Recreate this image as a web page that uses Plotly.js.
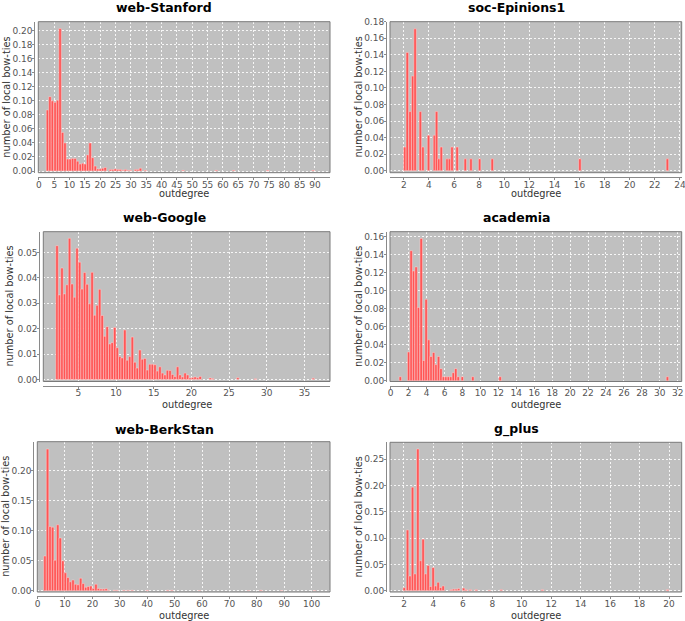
<!DOCTYPE html>
<html>
<head>
<meta charset="utf-8">
<script src="https://cdn.plot.ly/plotly-3.0.1.min.js"></script>
<style>html,body{margin:0;padding:0;background:#fff;}#chart{width:685px;height:621px;}</style>
</head>
<body>
<div id="chart"></div>
<script>
// ---------- data ----------
const panelTitles = ["web-Stanford", "soc-Epinions1", "web-Google", "academia", "web-BerkStan", "g_plus"];
const xLabel = "outdegree";
const yLabel = "number of local bow-ties";

const stanfordDeg = [2.8, 3.6, 4.4, 5.3, 6.1, 6.9, 7.7, 8.5, 9.4, 10.2, 11.0, 11.8, 12.6, 13.5, 14.3, 15.1, 15.9, 16.7, 17.5, 18.4, 19.2, 20.0, 20.8, 21.6, 23.3, 24.1, 24.9, 25.7, 26.5, 27.4, 28.2, 29.0, 29.8, 31.5, 32.3, 33.1, 34.7, 47.0, 57.8, 63.5, 74.6, 89.4];
const stanfordBowties = [0.087, 0.106, 0.100, 0.098, 0.101, 0.203, 0.055, 0.040, 0.017, 0.017, 0.018, 0.018, 0.014, 0.010, 0.011, 0.010, 0.023, 0.040, 0.019, 0.007, 0.003, 0.003, 0.004, 0.005, 0.002, 0.002, 0.003, 0.002, 0.002, 0.001, 0.002, 0.001, 0.001, 0.002, 0.002, 0.004, 0.001, 0.001, 0.001, 0.001, 0.001, 0.001];

const epinionsDeg = [2.08, 2.28, 2.5, 2.71, 2.9, 3.32, 3.52, 3.97, 4.44, 4.61, 4.79, 4.99, 5.45, 5.64, 5.84, 6.25, 6.9, 7.35, 8.04, 9.05, 16.03, 23.0];
const epinionsBowties = [0.0286, 0.1429, 0.0714, 0.1143, 0.1714, 0.0714, 0.0286, 0.0429, 0.0429, 0.0714, 0.0143, 0.0286, 0.0143, 0.0143, 0.0286, 0.0286, 0.0143, 0.0143, 0.0143, 0.0143, 0.0143, 0.0143];

const googleDeg = [2.17, 2.5, 2.83, 3.17, 3.5, 3.83, 4.17, 4.5, 4.83, 5.17, 5.5, 5.83, 6.17, 6.5, 6.83, 7.17, 7.5, 7.83, 8.17, 8.5, 8.83, 9.17, 9.5, 9.83, 10.17, 10.5, 10.83, 11.17, 11.5, 11.83, 12.17, 12.5, 12.83, 13.17, 13.5, 13.83, 14.17, 14.5, 14.83, 15.17, 15.5, 15.83, 16.17, 16.5, 16.83, 17.17, 17.5, 17.83, 18.17, 18.5, 18.83, 19.17, 19.5, 19.83, 20.17, 20.5, 20.83, 21.17, 22.5, 22.83, 26.17, 28.5, 36.17];
const googleBowties = [0.0527, 0.0333, 0.0439, 0.0337, 0.0373, 0.0556, 0.0376, 0.0324, 0.0517, 0.0462, 0.0356, 0.0421, 0.0375, 0.0298, 0.0422, 0.0253, 0.0292, 0.0355, 0.0252, 0.0170, 0.0208, 0.0140, 0.0145, 0.0205, 0.0125, 0.0090, 0.0085, 0.0195, 0.0076, 0.0090, 0.0167, 0.0068, 0.0045, 0.0116, 0.0080, 0.0083, 0.0037, 0.0060, 0.0060, 0.0058, 0.0033, 0.0050, 0.0025, 0.0018, 0.0036, 0.0035, 0.0020, 0.0012, 0.0050, 0.0018, 0.0010, 0.0025, 0.0018, 0.0006, 0.0008, 0.0010, 0.0007, 0.0012, 0.0006, 0.0004, 0.0007, 0.0003, 0.0005];

const academiaDeg = [1.07, 2.0, 2.28, 2.55, 2.83, 3.1, 3.4, 3.68, 3.95, 4.23, 4.5, 4.78, 5.05, 5.33, 5.6, 5.88, 6.15, 6.43, 6.7, 6.98, 7.25, 7.53, 7.98, 9.15, 12.2, 30.85];
const academiaBowties = [0.0045, 0.032, 0.1445, 0.122, 0.1265, 0.0815, 0.158, 0.0225, 0.0905, 0.0455, 0.027, 0.0315, 0.018, 0.027, 0.0135, 0.0045, 0.0045, 0.0045, 0.0045, 0.009, 0.0135, 0.0045, 0.0045, 0.0045, 0.0045, 0.0045];

const berkstanDeg = [2.7, 3.63, 4.56, 5.49, 6.42, 7.35, 8.28, 9.21, 10.14, 11.07, 12.0, 12.93, 13.86, 14.79, 15.72, 16.65, 17.58, 18.51, 19.44, 20.37, 21.3, 22.23, 23.16, 24.09, 25.02, 25.95, 28.0, 29.0, 31.5, 33.0, 34.5, 40.0, 47.5, 49.0, 59.0, 77.0, 81.5, 89.0, 101.0];
const berkstanBowties = [0.058, 0.236, 0.107, 0.106, 0.051, 0.110, 0.088, 0.050, 0.030, 0.022, 0.015, 0.018, 0.011, 0.010, 0.021, 0.012, 0.006, 0.007, 0.008, 0.004, 0.011, 0.004, 0.003, 0.003, 0.0035, 0.001, 0.001, 0.001, 0.001, 0.001, 0.001, 0.0008, 0.001, 0.001, 0.0005, 0.0005, 0.001, 0.0005, 0.0005];

const gplusDeg = [2.02, 2.24, 2.41, 2.58, 2.75, 2.94, 3.13, 3.3, 3.47, 3.64, 3.81, 3.98, 4.15, 4.32, 4.49, 4.66, 5.2, 5.37, 5.54, 5.71, 6.05, 6.22, 6.5, 6.9, 7.8, 8.6, 11.4, 19.9];
const gplusBowties = [0.0057, 0.1155, 0.028, 0.197, 0.032, 0.2696, 0.057, 0.098, 0.032, 0.048, 0.008, 0.044, 0.009, 0.016, 0.006, 0.009, 0.002, 0.003, 0.003, 0.004, 0.005, 0.002, 0.002, 0.002, 0.001, 0.002, 0.002, 0.002];

// ---------- layout geometry (pixels in a 685x621 page) ----------
const W = 685, H = 621;
const fx = px => px / W;
const fy = py => 1 - py / H;

const panels = [
  {x: stanfordDeg, y: stanfordBowties, bw: 0.82, L: 38.3, R: 330, T: 21.7, B: 172.7, xr: [-0.2, 94.9], yr: [-0.0024, 0.2128], dx: 5, dy: 0.02, tx: 164, ty: 8, lx: 6.5, ly: 193},
  {x: epinionsDeg, y: epinionsBowties, bw: 0.2, L: 390, R: 681.7, T: 21.7, B: 172.7, xr: [0.9, 24.14], yr: [-0.0024, 0.18], dx: 2, dy: 0.02, tx: 516.5, ty: 8, lx: 358.3, ly: 193},
  {x: googleDeg, y: googleBowties, bw: 0.333, L: 43.3, R: 330, T: 231.7, B: 381.5, xr: [0.35, 38.4], yr: [-0.0008, 0.0582], dx: 5, dy: 0.01, tx: 164, ty: 217, lx: 10, ly: 404},
  {x: academiaDeg, y: academiaBowties, bw: 0.275, L: 390, R: 681.7, T: 231.7, B: 381.5, xr: [-0.08, 32.44], yr: [-0.0008, 0.1656], dx: 2, dy: 0.02, tx: 516.5, ty: 217, lx: 358.3, ly: 404},
  {x: berkstanDeg, y: berkstanBowties, bw: 0.93, L: 37.3, R: 330, T: 441.7, B: 592, xr: [-0.1, 106.7], yr: [-0.002, 0.2483], dx: 10, dy: 0.05, tx: 164, ty: 429, lx: 6, ly: 615},
  {x: gplusDeg, y: gplusBowties, bw: 0.17, L: 390, R: 681.7, T: 442.3, B: 592, xr: [1.05, 20.86], yr: [-0.0025, 0.2823], dx: 2, dy: 0.05, tx: 516.5, ty: 429, lx: 358.3, ly: 615}
];

const FONT = "DejaVu Sans, Verdana, sans-serif";
const traces = [];
const layout = {
  width: W, height: H,
  margin: {l: 0, r: 0, t: 0, b: 0},
  paper_bgcolor: "#ffffff",
  plot_bgcolor: "#c0c0c0",
  showlegend: false,
  bargap: 0,
  font: {family: FONT, size: 9, color: "#444"},
  shapes: [], annotations: []
};

panels.forEach((p, i) => {
  const n = i === 0 ? "" : String(i + 1);
  traces.push({
    type: "bar", x: p.x, y: p.y, width: p.bw,
    xaxis: "x" + n, yaxis: "y" + n,
    marker: {color: "#ff5555", line: {color: "rgba(255,215,215,0.95)", width: 0.5}},
    hoverinfo: "x+y"
  });
  const common = {
    showline: true, linecolor: "#8a8a8a", linewidth: 1,
    ticks: "outside", ticklen: 2, tickwidth: 1, tickcolor: "#8a8a8a",
    showgrid: true, gridcolor: "rgba(255,255,255,0.85)", gridwidth: 1, griddash: "2px,2px",
    zeroline: false, fixedrange: true, ticklabeloverflow: "allow",
    tickfont: {family: FONT, size: 9, color: "#555"}
  };
  layout["xaxis" + n] = Object.assign({}, common, {
    domain: [fx(p.L), fx(p.R)], range: p.xr, tick0: 0, dtick: p.dx,
    anchor: "free", position: fy(p.B + 4), ticklabelstandoff: -3
  });
  layout["yaxis" + n] = Object.assign({}, common, {
    domain: [fy(p.B), fy(p.T)], range: p.yr, tick0: 0, dtick: p.dy, tickformat: ".2f",
    anchor: "free", position: fx(p.L - 4), ticklabelstandoff: -2
  });
  layout.shapes.push({
    type: "rect", xref: "x" + n + " domain", yref: "y" + n + " domain",
    x0: 0, x1: 1, y0: 0, y1: 1, line: {color: "#7a7a7a", width: 1}, layer: "above"
  });
  layout.annotations.push({
    text: "<b>" + panelTitles[i] + "</b>", xref: "paper", yref: "paper",
    x: fx(p.tx), y: fy(p.ty), xanchor: "center", yanchor: "middle", showarrow: false,
    font: {family: FONT, size: 12.5, color: "#000"}
  });
  layout.annotations.push({
    text: xLabel, xref: "paper", yref: "paper",
    x: fx((p.L + p.R) / 2), y: fy(p.ly), xanchor: "center", yanchor: "middle", showarrow: false,
    font: {family: FONT, size: 9.8, color: "#333"}
  });
  layout.annotations.push({
    text: yLabel, xref: "paper", yref: "paper", textangle: -90,
    x: fx(p.lx), y: fy((p.T + p.B) / 2), xanchor: "center", yanchor: "middle", showarrow: false,
    font: {family: FONT, size: 9.8, color: "#333"}
  });
});

Plotly.newPlot("chart", traces, layout, {displayModeBar: false, staticPlot: true});
</script>
</body>
</html>
